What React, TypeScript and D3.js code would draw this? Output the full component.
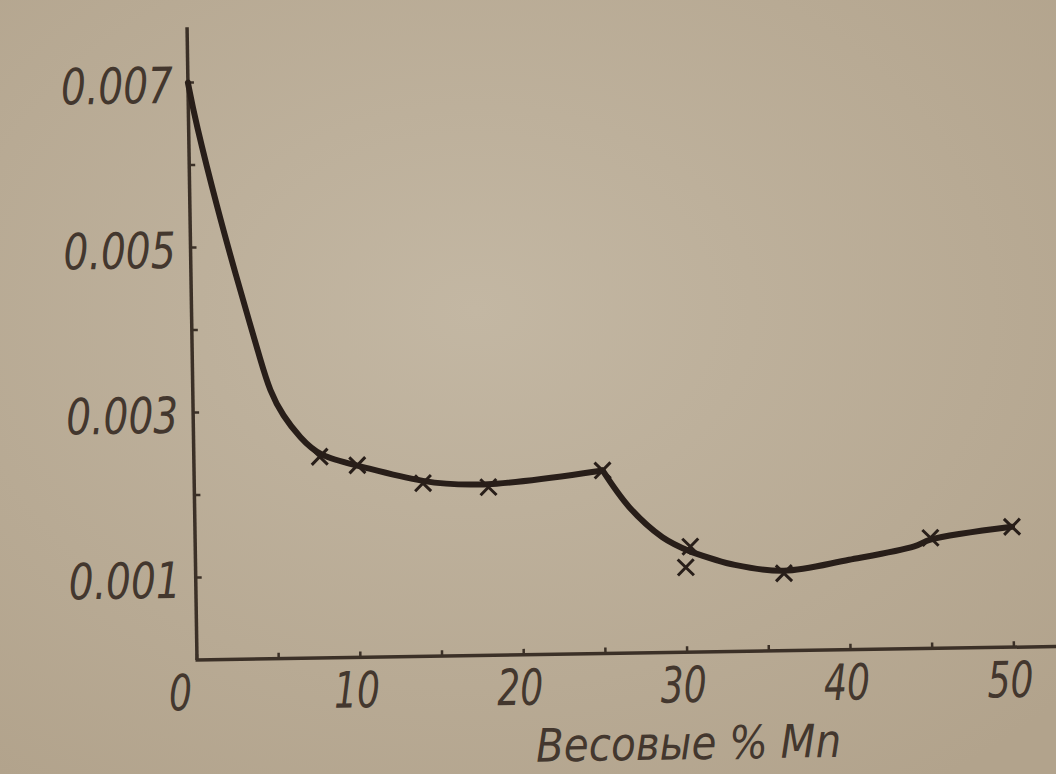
import React, { useRef, useEffect } from 'react';
import * as d3 from 'd3';

// --- Data ---
const curveX = [0, 0.4, 1.7, 2.8, 3.57, 4.15, 4.72, 5.5, 6.5, 7.7, 10, 14, 18, 25, 26.6, 28.6, 30.3, 33, 36, 40, 44, 45, 50];
const curveY = [0.007, 0.00655, 0.00545, 0.00462, 0.00406, 0.00364, 0.00324, 0.00294, 0.00268, 0.00244, 0.00233, 0.0021, 0.00204, 0.00222, 0.00177, 0.0014, 0.00122, 0.00105, 0.00097, 0.00109, 0.00124, 0.00132, 0.00146];
const kinks = [25, 30.3]; // the curve breaks sharply here

const markX = [7.7, 10, 14, 18, 25, 30.3, 30, 36, 45, 50];
const markY = [0.00244, 0.00233, 0.0021, 0.00204, 0.00222, 0.00128, 0.00103, 0.00094, 0.00134, 0.00146];

const xTicks = [0, 10, 20, 30, 40, 50];
const xMinor = [0, 5, 10, 15, 20, 25, 30, 35, 40, 45, 50];
const yTicks = [0.001, 0.003, 0.005, 0.007];
const yTickLabels = ['0.001', '0.003', '0.005', '0.007'];
const yMinor = [0.001, 0.002, 0.003, 0.004, 0.005, 0.006, 0.007];
const xLabel = 'Весовые % Mn';

const App = () => {
  const svgRef = useRef(null);
  const width = 1056;
  const height = 774;

  useEffect(() => {
    const origin = { x: 197, y: 660 };
    const ink = '#281e19';
    const textInk = '#43372e';
    const font = '"Liberation Sans Narrow", "DejaVu Sans Condensed", sans-serif';

    const svg = d3.select(svgRef.current)
      .attr('width', width)
      .attr('height', height)
      .html('');

    // paper background
    const defs = svg.append('defs');
    const grad = defs.append('radialGradient').attr('id', 'paper')
      .attr('cx', '45%').attr('cy', '40%').attr('r', '75%');
    grad.append('stop').attr('offset', '0%').attr('stop-color', '#c3b7a3');
    grad.append('stop').attr('offset', '100%').attr('stop-color', '#b2a38c');
    svg.append('rect').attr('width', width).attr('height', height).attr('fill', 'url(#paper)');

    // photo is slightly rotated
    const g = svg.append('g')
      .attr('transform', `translate(${origin.x},${origin.y}) rotate(-0.9)`);

    // --- Scales ---
    const xScale = d3.scaleLinear().domain([0, 50]).range([0, 817]);
    const yScale = d3.scaleLinear().domain([0, 0.007]).range([0, -577.5]);

    // --- Axes ---
    g.append('line')
      .attr('x1', 0).attr('y1', 0)
      .attr('x2', 0).attr('y2', yScale(0.00767))
      .attr('stroke', '#3b3027').attr('stroke-width', 3.5);
    g.append('line')
      .attr('x1', -1.5).attr('y1', 0)
      .attr('x2', xScale(54)).attr('y2', 0)
      .attr('stroke', '#3b3027').attr('stroke-width', 3.5);

    g.selectAll('.xtick').data(xMinor).enter().append('line')
      .attr('x1', d => xScale(d)).attr('x2', d => xScale(d))
      .attr('y1', 0).attr('y2', -6)
      .attr('stroke', '#3b3027').attr('stroke-width', 2.5);
    g.selectAll('.ytick').data(yMinor).enter().append('line')
      .attr('x1', 0).attr('x2', 6)
      .attr('y1', d => yScale(d)).attr('y2', d => yScale(d))
      .attr('stroke', '#3b3027').attr('stroke-width', 2.5);

    // tick labels (squeezed to the narrow print face)
    g.selectAll('.xlab').data(xTicks).enter().append('text')
      .attr('x', d => xScale(d))
      .attr('dx', d => (d === 0 ? -17 : -4))
      .attr('y', 50)
      .attr('text-anchor', 'middle')
      .attr('textLength', d => String(d).length * 23)
      .attr('lengthAdjust', 'spacingAndGlyphs')
      .style('font-family', font)
      .style('font-style', 'italic')
      .style('font-size', '50px')
      .style('fill', textInk)
      .text(d => String(d));

    g.selectAll('.ylab').data(yTicks).enter().append('text')
      .attr('x', -15)
      .attr('y', d => yScale(d) + 20)
      .attr('text-anchor', 'end')
      .attr('textLength', 112)
      .attr('lengthAdjust', 'spacingAndGlyphs')
      .style('font-family', font)
      .style('font-style', 'italic')
      .style('font-size', '50px')
      .style('fill', textInk)
      .text((d, i) => yTickLabels[i]);

    // axis label
    g.append('text')
      .attr('x', xScale(30))
      .attr('y', 107)
      .attr('text-anchor', 'middle')
      .attr('textLength', 305)
      .attr('lengthAdjust', 'spacingAndGlyphs')
      .style('font-family', font)
      .style('font-style', 'italic')
      .style('font-size', '46px')
      .style('fill', textInk)
      .text(xLabel);

    // --- Curve, drawn in pieces so the kinks stay sharp ---
    const pts = curveX.map((x, i) => [x, curveY[i]]);
    const cuts = [0, ...kinks.map(k => curveX.indexOf(k)), pts.length - 1];
    const smooth = d3.line()
      .x(d => xScale(d[0]))
      .y(d => yScale(d[1]))
      .curve(d3.curveBasis); // steep first drop
    const through = d3.line()
      .x(d => xScale(d[0]))
      .y(d => yScale(d[1]))
      .curve(d3.curveCatmullRom.alpha(0.5));

    for (let s = 0; s < cuts.length - 1; s++) {
      g.append('path')
        .datum(pts.slice(cuts[s], cuts[s + 1] + 1))
        .attr('fill', 'none')
        .attr('stroke', ink)
        .attr('stroke-width', 6)
        .attr('stroke-linejoin', 'round')
        .attr('stroke-linecap', 'round')
        .attr('d', s === 0 ? smooth : through);
    }

    // cross markers
    const r = 8;
    g.selectAll('.mark').data(markX).enter().append('path')
      .attr('d', (d, i) => {
        const cx = xScale(d);
        const cy = yScale(markY[i]);
        return `M${cx - r},${cy - r}L${cx + r},${cy + r}M${cx - r},${cy + r}L${cx + r},${cy - r}`;
      })
      .attr('stroke', ink)
      .attr('stroke-width', 3)
      .attr('fill', 'none');
  }, []);

  return (
    <svg ref={svgRef} style={{ position: 'absolute', left: 0, top: 0, display: 'block' }}></svg>
  );
};

export default App;
